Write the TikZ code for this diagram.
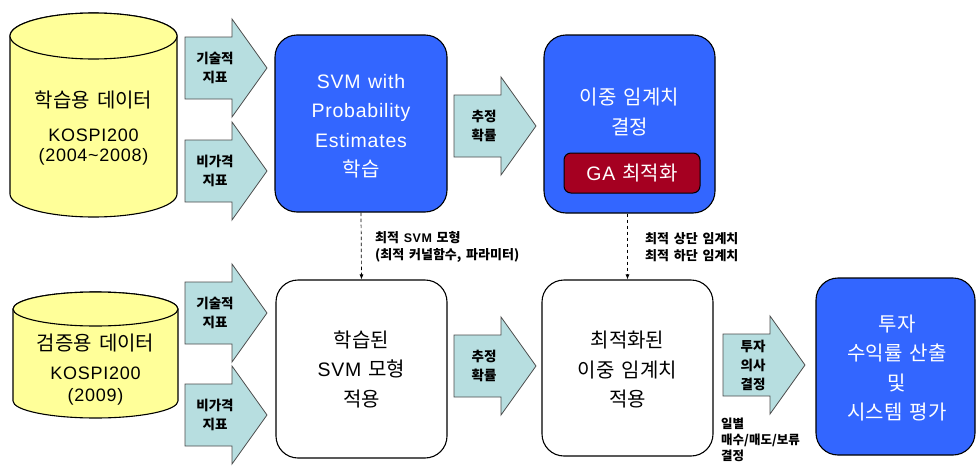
\documentclass[tikz,border=0pt]{standalone}
\usepackage{fontspec}
\setmainfont[WordSpace=1.6]{Noto Sans CJK KR}
\newfontfamily\lat[LetterSpace=4,WordSpace=1.2]{Liberation Sans}
\usetikzlibrary{arrows.meta}
\definecolor{boxblue}{RGB}{51,102,255}
\definecolor{arrfill}{RGB}{183,222,224}
\definecolor{cylyellow}{RGB}{255,255,153}
\definecolor{garec}{RGB}{165,0,33}
\tikzset{
  bigtxt/.style={font=\fontsize{20}{29.5}\selectfont, align=center, inner sep=0pt},
  bluebox/.style={draw=black, line width=1.1pt, fill=boxblue, rounded corners=22pt, text=white},
  whitebox/.style={draw=black, line width=1.1pt, fill=white, rounded corners=22pt},
  arrowfill/.style={draw=black!70, line width=0.8pt, fill=arrfill},
  arrowlabel/.style={font=\bfseries\fontsize{13.5}{19}\selectfont, align=center, inner sep=0pt},
  smalllabel/.style={font=\bfseries\fontsize{13}{16.5}\selectfont, align=left, inner sep=0pt, anchor=west},
  cyl/.style={draw=black, line width=1.1pt, fill=cylyellow},
  dasharr/.style={draw=black, line width=0.7pt, dash pattern=on 3.5pt off 2.5pt, -{Latex[length=5pt,width=4pt]}},
}
\newcommand\blockarr[4]{%
  \path[arrowfill] (#2,#3-31) -- (#2+47,#3-31) -- (#2+47,#3-49) -- (#2+82,#3) -- (#2+47,#3+49) -- (#2+47,#3+31) -- (#2,#3+31) -- cycle;
  \node[arrowlabel] (#1) at (#2+30,#3) {#4};}
\newcommand\bl[1]{{\lat\fontsize{19.5}{29.5}\selectfont #1}}
\begin{document}
\begin{tikzpicture}[x=1pt,y=-1pt]
\useasboundingbox (0,0) rectangle (978,466);
\fill[white] (0,0) rectangle (978,466);

% cylinder 1
\path[cyl] (10,36) -- (10,194) arc[start angle=180,end angle=0,x radius=83.5,y radius=23] -- (177,36) arc[start angle=0,end angle=-180,x radius=83.5,y radius=23] -- cycle;
\path[cyl] (93.5,36) ellipse[x radius=83.5,y radius=23];
\node[inner sep=0pt, font=\fontsize{20}{24}\selectfont] (train) at (93.5,100) {학습용 데이터};
\node[inner sep=0pt, align=center, font=\lat\fontsize{18}{20.5}\selectfont] (trainsub) at (93.5,147) {KOSPI200\\(2004\textasciitilde2008)};

% cylinder 2
\path[cyl] (13,309) -- (13,401) arc[start angle=180,end angle=0,x radius=82.5,y radius=17] -- (178,309) arc[start angle=0,end angle=-180,x radius=82.5,y radius=17] -- cycle;
\path[cyl] (95.5,309) ellipse[x radius=82.5,y radius=17];
\node[inner sep=0pt, font=\fontsize{20}{24}\selectfont] (test) at (95.5,343) {검증용 데이터};
\node[inner sep=0pt, align=center, font=\lat\fontsize{18}{21.5}\selectfont] (testsub) at (95.5,386) {KOSPI200\\(2009)};

% block arrows
\blockarr{a1}{185}{68}{기술적\\지표}
\blockarr{a2}{185}{171}{비가격\\지표}
\blockarr{a3}{185}{313}{기술적\\지표}
\blockarr{a4}{185}{415}{비가격\\지표}
\blockarr{a5}{454}{126}{추정\\확률}
\blockarr{a6}{454}{366}{추정\\확률}
\blockarr{a7}{723}{365}{투자\\의사\\결정}

% boxes
\node[bluebox, minimum width=172pt, minimum height=177pt] (svm) at (361,123.5) {};
\node[bigtxt, text=white] (svmtxt) at (361,126) {\bl{SVM with}\\\bl{Probability}\\\bl{Estimates}\\학습};

\node[bluebox, minimum width=171pt, minimum height=178pt] (thr) at (629.5,124) {};
\node[bigtxt, text=white] (thrtxt) at (629.5,112) {이중 임계치\\결정};
\node[draw=black, line width=1pt, fill=garec, rounded corners=7pt, minimum width=136pt, minimum height=40pt, text=white, font=\fontsize{20}{22}\selectfont, inner sep=0pt] (ga) at (632,173) {\bl{GA} 최적화};

\node[whitebox, minimum width=171pt, minimum height=178pt] (apply) at (361.5,369) {};
\node[bigtxt] (applytxt) at (361.5,369) {학습된\\\bl{SVM} 모형\\적용};

\node[whitebox, minimum width=171pt, minimum height=176pt] (opt) at (627.5,368) {};
\node[bigtxt] (opttxt) at (627.5,370) {최적화된\\이중 임계치\\적용};

\node[bluebox, minimum width=159pt, minimum height=177pt] (eval) at (895.5,366.5) {};
\node[bigtxt, text=white] (evaltxt) at (897,368) {투자\\수익률 산출\\및\\시스템 평가};

% dashed arrows
\draw[dasharr] (svm.south) -- (apply.north);
\draw[dasharr] (thr.south -| opt.north) -- (opt.north);
\node[smalllabel] (l1) at (375,247) {최적 {\lat\bfseries\fontsize{12.5}{16.5}\selectfont SVM} 모형\\(최적 커널함수, 파라미터)};
\node[smalllabel] (l2) at (645,247) {최적 상단 임계치\\최적 하단 임계치};
\node[smalllabel, font=\bfseries\fontsize{12.5}{16}\selectfont] (l3) at (721,439.5) {일별\\매수/매도/보류\\결정};
\end{tikzpicture}
\end{document}
